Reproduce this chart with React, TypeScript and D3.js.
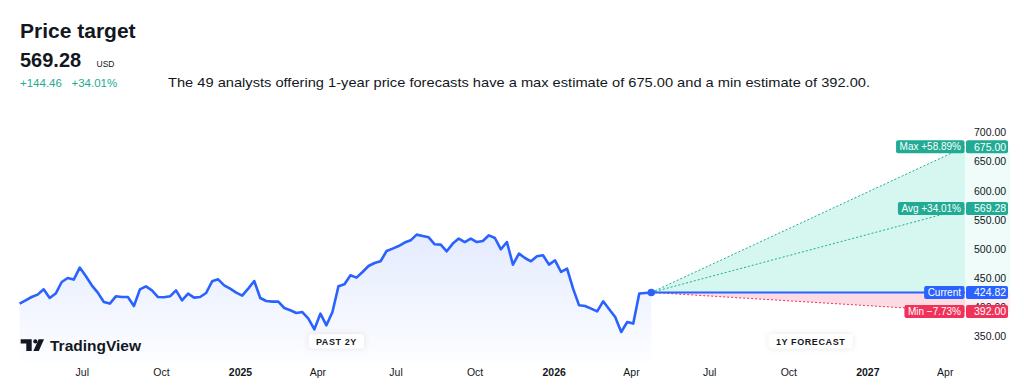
import React, { useEffect, useRef } from 'react';
import * as d3 from 'd3';

// weekly closes, last one is today's price
const prices = [
  405.7, 411.3, 417.0, 421.1, 430.2, 415.3, 422.9, 442.8, 449.7, 446.9,
  467.5, 453.1, 437.1, 424.6, 408.4, 405.7, 418.2, 417.0, 417.0, 401.5,
  430.2, 435.4, 428.5, 417.0, 416.5, 418.2, 428.5, 411.3, 422.9, 416.0,
  417.0, 423.9, 444.0, 447.4, 437.1, 431.4, 424.6, 419.4, 431.4, 444.5,
  415.3, 410.1, 409.1, 409.1, 398.1, 394.2, 389.5, 391.2, 379.9, 361.5,
  388.5, 368.4, 391.2, 435.4, 438.8, 454.3, 450.3, 460.0, 470.3, 475.4,
  478.4, 496.0, 500.2, 504.6, 510.5, 514.4, 524.2, 521.8, 519.6, 507.6,
  507.0, 495.5, 508.8, 517.4, 511.5, 517.4, 511.5, 513.2, 523.0, 518.4,
  499.0, 511.5, 472.7, 491.6, 484.0, 478.4, 486.9, 488.7, 472.7, 480.1,
  460.0, 465.8, 431.4, 402.7, 401.5, 397.1, 392.4, 409.6, 395.9, 382.6,
  356.9, 374.1, 371.3, 422.9, 423.9, 424.82,
];
const lastDate = new Date(2026, 3, 24);
const forecastEnd = new Date(2027, 3, 24);
const currentPrice = 424.82;

const targets = [
  { name: 'Max', value: 675.0, pct: '+58.89%', color: '#22AB94' },
  { name: 'Avg', value: 569.28, pct: '+34.01%', color: '#22AB94' },
  { name: 'Min', value: 392.0, pct: '\u22127.73%', color: '#F0325A' },
];

const priceTicks = [350, 400, 450, 500, 550, 600, 650, 700];
const timeTicks = [
  { date: new Date(2024, 6, 1), label: 'Jul', year: false },
  { date: new Date(2024, 9, 1), label: 'Oct', year: false },
  { date: new Date(2025, 0, 1), label: '2025', year: true },
  { date: new Date(2025, 3, 1), label: 'Apr', year: false },
  { date: new Date(2025, 6, 1), label: 'Jul', year: false },
  { date: new Date(2025, 9, 1), label: 'Oct', year: false },
  { date: new Date(2026, 0, 1), label: '2026', year: true },
  { date: new Date(2026, 3, 1), label: 'Apr', year: false },
  { date: new Date(2026, 6, 1), label: 'Jul', year: false },
  { date: new Date(2026, 9, 1), label: 'Oct', year: false },
  { date: new Date(2027, 0, 1), label: '2027', year: true },
  { date: new Date(2027, 3, 1), label: 'Apr', year: false },
];

const FONT = '"Liberation Sans", Arial, sans-serif';
const TEXT = '#131722';

const App = () => {
  const svgRef = useRef<SVGSVGElement>(null);

  useEffect(() => {
    if (!svgRef.current) return;
    const width = 1024;
    const height = 391;
    const svg = d3.select(svgRef.current);
    svg.selectAll('*').remove();
    svg.attr('width', width).attr('height', height).style('font-family', FONT);

    const n = prices.length;
    const dates = prices.map((_, i) => d3.timeDay.offset(lastDate, -7 * (n - 1 - i)));
    const data = prices.map((p, i) => ({ date: dates[i], price: p }));

    const x = d3.scaleTime().domain([dates[0], forecastEnd]).range([19.6, 965]);
    const y = d3.scaleLinear().domain([350, 700]).range([336, 132.3]);

    const defs = svg.append('defs');
    const grad = defs.append('linearGradient')
      .attr('id', 'areaGrad')
      .attr('gradientUnits', 'userSpaceOnUse')
      .attr('x1', 0).attr('x2', 0).attr('y1', 230).attr('y2', 362);
    grad.append('stop').attr('offset', 0).attr('stop-color', '#2962FF').attr('stop-opacity', 0.13);
    grad.append('stop').attr('offset', 1).attr('stop-color', '#2962FF').attr('stop-opacity', 0.01);

    const shadow = defs.append('filter').attr('id', 'shadow')
      .attr('x', '-50%').attr('y', '-100%').attr('width', '200%').attr('height', '300%');
    shadow.append('feDropShadow').attr('dx', 0).attr('dy', 0).attr('stdDeviation', 3)
      .attr('flood-color', '#000').attr('flood-opacity', 0.1);

    // header
    svg.append('text').attr('x', 20).attr('y', 37.5)
      .attr('font-size', 21).attr('font-weight', 700).attr('fill', TEXT)
      .text('Price target');
    svg.append('text').attr('x', 20).attr('y', 66.5)
      .attr('font-size', 20).attr('font-weight', 700).attr('fill', TEXT)
      .text('569.28');
    svg.append('text').attr('x', 96.5).attr('y', 66.5)
      .attr('font-size', 8.5).attr('fill', TEXT)
      .text('USD');
    svg.append('text').attr('x', 20).attr('y', 87)
      .attr('font-size', 11.5).attr('fill', '#22AB94')
      .text('+144.46');
    svg.append('text').attr('x', 71.5).attr('y', 87)
      .attr('font-size', 11.5).attr('fill', '#22AB94')
      .text('+34.01%');
    svg.append('text').attr('x', 168).attr('y', 87)
      .attr('font-size', 13.5).attr('fill', TEXT)
      .attr('textLength', 702).attr('lengthAdjust', 'spacingAndGlyphs')
      .text('The 49 analysts offering 1-year price forecasts have a max estimate of 675.00 and a min estimate of 392.00.');

    // forecast cone
    const x0 = x(lastDate);
    const yc = y(currentPrice);
    const xe = x(forecastEnd);
    svg.append('path')
      .attr('d', `M${x0},${yc}L${xe},${y(targets[0].value)}L${xe},${yc}Z`)
      .attr('fill', '#2ED8B4').attr('fill-opacity', 0.2);
    svg.append('path')
      .attr('d', `M${x0},${yc}L${xe},${y(targets[2].value)}L${xe},${yc}Z`)
      .attr('fill', '#F0386A').attr('fill-opacity', 0.18);
    svg.append('rect')
      .attr('x', xe).attr('y', y(targets[0].value))
      .attr('width', 45).attr('height', yc - y(targets[0].value))
      .attr('fill', '#2ED8B4').attr('fill-opacity', 0.08);
    svg.append('rect')
      .attr('x', xe).attr('y', yc)
      .attr('width', 45).attr('height', y(targets[2].value) - yc)
      .attr('fill', '#F0386A').attr('fill-opacity', 0.08);

    targets.forEach(t => {
      svg.append('line')
        .attr('x1', x0).attr('y1', yc).attr('x2', xe).attr('y2', y(t.value))
        .attr('stroke', t.color).attr('stroke-width', 1).attr('stroke-dasharray', '2 2');
    });
    svg.append('line')
      .attr('x1', x0).attr('y1', yc).attr('x2', xe).attr('y2', yc)
      .attr('stroke', '#2962FF').attr('stroke-width', 2);

    // history
    const area = d3.area<{ date: Date; price: number }>()
      .x(d => x(d.date)).y0(362).y1(d => y(d.price));
    svg.append('path').datum(data).attr('d', area).attr('fill', 'url(#areaGrad)');
    const line = d3.line<{ date: Date; price: number }>()
      .x(d => x(d.date)).y(d => y(d.price));
    svg.append('path').datum(data).attr('d', line)
      .attr('fill', 'none').attr('stroke', '#2962FF').attr('stroke-width', 2.6)
      .attr('stroke-linejoin', 'round');
    svg.append('circle').attr('cx', x0).attr('cy', yc).attr('r', 3.8).attr('fill', '#2962FF');

    // price axis
    svg.append('g').selectAll('text').data(priceTicks).enter().append('text')
      .attr('x', 974).attr('y', d => y(d) + 4)
      .attr('font-size', 10.5).attr('fill', TEXT)
      .text(d => d.toFixed(2));

    const tags = [
      ...targets.map(t => ({ label: `${t.name} ${t.pct}`, value: t.value, color: t.color })),
      { label: 'Current', value: currentPrice, color: '#2962FF' },
    ];
    tags.forEach(t => {
      const cy = y(t.value);
      const g = svg.append('g');
      const txt = g.append('text')
        .attr('y', cy + 3.6).attr('font-size', 10).attr('fill', '#fff')
        .attr('text-anchor', 'end').attr('x', 961)
        .text(t.label);
      const w = (txt.node() as SVGTextElement).getComputedTextLength();
      g.insert('rect', 'text')
        .attr('x', 964.5 - w - 7).attr('y', cy - 6.5)
        .attr('width', w + 7).attr('height', 13).attr('rx', 2)
        .attr('fill', t.color);
      g.append('rect')
        .attr('x', 966).attr('y', cy - 6.5).attr('width', 42).attr('height', 13).attr('rx', 2)
        .attr('fill', t.color);
      g.append('text')
        .attr('x', 974).attr('y', cy + 3.8).attr('font-size', 10.5).attr('fill', '#fff')
        .text(t.value.toFixed(2));
    });

    // section labels
    const sections = [
      { label: 'PAST 2Y', cx: (x(dates[0]) + x0) / 2 + 1 },
      { label: '1Y FORECAST', cx: (x0 + xe) / 2 + 2.5 },
    ];
    sections.forEach(s => {
      const g = svg.append('g');
      const txt = g.append('text')
        .attr('x', s.cx).attr('y', 344.8).attr('text-anchor', 'middle')
        .attr('font-size', 9).attr('font-weight', 700).attr('fill', TEXT)
        .attr('letter-spacing', 0.6)
        .text(s.label);
      const w = (txt.node() as SVGTextElement).getComputedTextLength();
      g.insert('rect', 'text')
        .attr('x', s.cx - w / 2 - 7).attr('y', 334.3)
        .attr('width', w + 14).attr('height', 14).attr('rx', 3)
        .attr('fill', '#fff').attr('filter', 'url(#shadow)');
    });

    // time axis
    svg.append('g').selectAll('text').data(timeTicks).enter().append('text')
      .attr('x', d => x(d.date)).attr('y', 376).attr('text-anchor', 'middle')
      .attr('font-size', 10.5).attr('font-weight', d => (d.year ? 700 : 400))
      .attr('fill', TEXT)
      .text(d => d.label);

    // watermark
    const logo = svg.append('g').attr('fill', TEXT);
    logo.append('path').attr('d', 'M20.7,339.3H31.7V351H26.3V343.4H20.7Z');
    logo.append('circle').attr('cx', 35.3).attr('cy', 341.4).attr('r', 2.1);
    logo.append('path').attr('d', 'M38.6,339.3H44L38.8,351H33.4Z');
    logo.append('text').attr('x', 50).attr('y', 351)
      .attr('font-size', 15.5).attr('font-weight', 700)
      .text('TradingView');
  }, []);

  return (
    <div style={{ position: 'absolute', left: 0, top: 0, background: '#fff' }}>
      <svg ref={svgRef} width={1024} height={391}></svg>
    </div>
  );
};

export default App;
